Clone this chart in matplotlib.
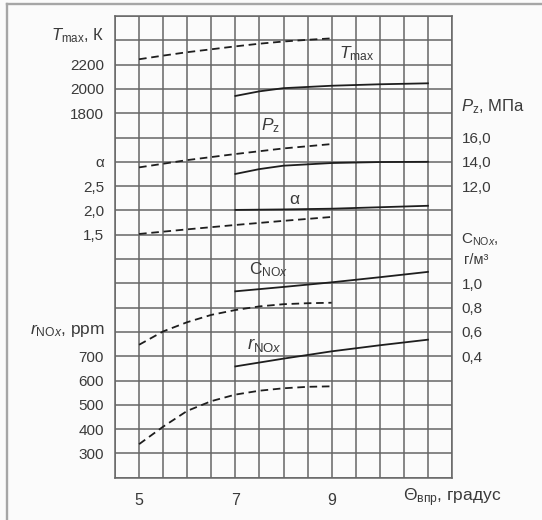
import numpy as np
import matplotlib
matplotlib.use('Agg')
import matplotlib.pyplot as plt
from matplotlib.lines import Line2D
from matplotlib.ticker import FixedLocator, FixedFormatter

plt.rcParams['font.family'] = ['Liberation Sans', 'DejaVu Sans']
plt.rcParams['mathtext.fontset'] = 'custom'
plt.rcParams['mathtext.rm'] = 'Liberation Sans'
plt.rcParams['mathtext.it'] = 'Liberation Sans:italic'

# injection advance angle, deg
theta_base = [5, 5.5, 6, 6.5, 7, 7.5, 8, 8.5, 9]
theta_lin = [5, 6, 7, 8, 9]
theta_new = [7, 8, 9, 10, 11]
theta_new_t = [7, 7.5, 8, 9, 10, 11]

# dashed = base engine, solid = modified
tmax_base = [2244, 2274, 2302, 2326, 2350, 2372, 2390, 2404, 2416]
tmax_new = [1942, 1980, 2006, 2026, 2038, 2046]
pz_base = [13.54, 14.14, 14.64, 15.10, 15.46]
pz_new = [13.0, 13.4, 13.68, 13.9, 13.98, 14.0]
alpha_base = [1.515, 1.61, 1.70, 1.785, 1.865]
alpha_new = [2.01, 2.02, 2.035, 2.065, 2.095]
cnox_base = [0.494, 0.604, 0.68, 0.74, 0.78, 0.81, 0.828, 0.836, 0.84]
cnox_new = [0.934, 0.97, 1.008, 1.05, 1.094]
rnox_base = [338, 410, 475, 515, 542, 558, 568, 574, 576]
rnox_new = [658, 690, 720, 745, 768]

tmax_ticks = [1800, 2000, 2200]
alpha_ticks = [1.5, 2.0, 2.5, 3.0]
alpha_labels = ['1,5', '2,0', '2,5', 'α']
rnox_ticks = [300, 400, 500, 600, 700]
pz_ticks = [12.0, 14.0, 16.0]
cnox_ticks = [0.4, 0.6, 0.8, 1.0]
x_ticks = [5, 7, 9]

GRID = '#666666'
INK = '#1e1e1e'
TXT = '#3a3a3a'
FS = 10.5

fig = plt.figure(figsize=(5.42, 5.20), dpi=100, facecolor='#fbfbfb')
ax = fig.add_axes([115 / 542, 1 - 477.7 / 520, 337 / 542, 461.7 / 520])
ax.set_facecolor('#fbfbfb')
ax.set_xlim(4.5, 11.5)
ax.set_ylim(0, 19)
ax.set_xticks(x_ticks)
ax.set_xticks(np.arange(4.5, 11.51, 0.5), minor=True)
ax.set_yticks([])
ax.set_yticks(np.arange(0, 19.1, 1), minor=True)
ax.grid(which='both', color=GRID, lw=1.1)
ax.tick_params(which='both', length=0)
ax.tick_params(axis='x', pad=11, labelsize=FS + 1, labelcolor=TXT)
for s in ax.spines.values():
    s.set_color(GRID)
    s.set_linewidth(1.1)


def scale_axis(lo, hi, side, ticks, labels, pad):
    tw = ax.twinx()
    tw.set_ylim(lo, hi)
    tw.yaxis.set_ticks_position(side)
    tw.yaxis.set_major_locator(FixedLocator(ticks))
    tw.yaxis.set_major_formatter(FixedFormatter(labels))
    tw.tick_params(length=0, pad=pad, labelsize=FS + 0.5, labelcolor=TXT)
    for s in tw.spines.values():
        s.set_visible(False)
    return tw


def comma(vals, fmt):
    return [fmt.format(v).replace('.', ',') for v in vals]


# each parameter gets its own scale, one grid row per tick step
ax_t = scale_axis(-1200, 2600, 'left', tmax_ticks, comma(tmax_ticks, '{:d}'), 8)
ax_a = scale_axis(-3.5, 6.0, 'left', alpha_ticks, alpha_labels, 8)
ax_r = scale_axis(200, 2100, 'left', rnox_ticks, comma(rnox_ticks, '{:d}'), 8)
ax_p = scale_axis(-12, 26, 'right', pz_ticks, comma(pz_ticks, '{:.1f}'), 7)
ax_c = scale_axis(-0.6, 3.2, 'right', cnox_ticks, comma(cnox_ticks, '{:.1f}'), 7)

dash = dict(color=INK, lw=1.3, ls=(0, (4.2, 2.6)))
solid = dict(color=INK, lw=1.3)
ax_t.plot(theta_base, tmax_base, **dash)
ax_t.plot(theta_new_t, tmax_new, **solid)
ax_p.plot(theta_lin, pz_base, **dash)
ax_p.plot(theta_new_t, pz_new, **solid)
ax_a.plot(theta_lin, alpha_base, **dash)
ax_a.plot(theta_new, alpha_new, **solid)
ax_c.plot(theta_base, cnox_base, **dash)
ax_c.plot(theta_new, cnox_new, **solid)
ax_r.plot(theta_base, rnox_base, **dash)
ax_r.plot(theta_new, rnox_new, **solid)

# curve names
ax.text(9.53, 17.45, r'$T_{\mathrm{max}}$', fontsize=FS + 2, color=TXT, ha='center', va='center')
ax.text(7.72, 14.5, r'$P_{\mathrm{z}}$', fontsize=FS + 2, color=TXT, ha='center', va='center')
ax.text(8.22, 11.45, 'α', fontsize=FS + 2, color=TXT, ha='center', va='center')
ax.text(7.7, 8.55, r'$\mathrm{C}_{\mathrm{NO}\mathit{x}}$', fontsize=FS + 2, color=TXT, ha='center', va='center')
ax.text(7.6, 5.45, r'$r_{\mathrm{NO}\mathit{x}}$', fontsize=FS + 3, color=TXT, ha='center', va='center')

# scale titles
yt = ax.get_yaxis_transform()
ax.text(-0.03, 18.2, r'$T_{\mathrm{max}}$, К', transform=yt, fontsize=FS + 1.5,
        color=TXT, ha='right', va='center')
ax.text(-0.03, 6.07, r'$r_{\mathrm{NO}\mathit{x}}$, ppm', transform=yt, fontsize=FS + 2,
        color=TXT, ha='right', va='center')
ax.text(1.027, 15.25, r'$P_{\mathrm{z}}$, МПа', transform=yt, fontsize=FS + 1.5,
        color=TXT, ha='left', va='center')
ax.text(1.027, 9.78, r'$\mathrm{C}_{\mathrm{NO}\mathit{x}}$,', transform=yt, fontsize=FS + 0.5,
        color=TXT, ha='left', va='center')
ax.text(1.037, 8.96, 'г/м³', transform=yt, fontsize=FS,
        color=TXT, ha='left', va='center')
ax.text(10.48, -0.84, r'$\Theta_{\mathrm{впр}}$, градус', fontsize=FS + 2,
        color=TXT, ha='left', va='center', clip_on=False)

# thin frame around the figure
fig.add_artist(Line2D([7.3 / 542, 7.3 / 542], [0, 1 - 4 / 520], color='#a6a6a6', lw=1.7))
fig.add_artist(Line2D([7.3 / 542, 1], [1 - 4 / 520, 1 - 4 / 520], color='#a6a6a6', lw=1.7))

fig.savefig('out.png', dpi=100, facecolor=fig.get_facecolor())
